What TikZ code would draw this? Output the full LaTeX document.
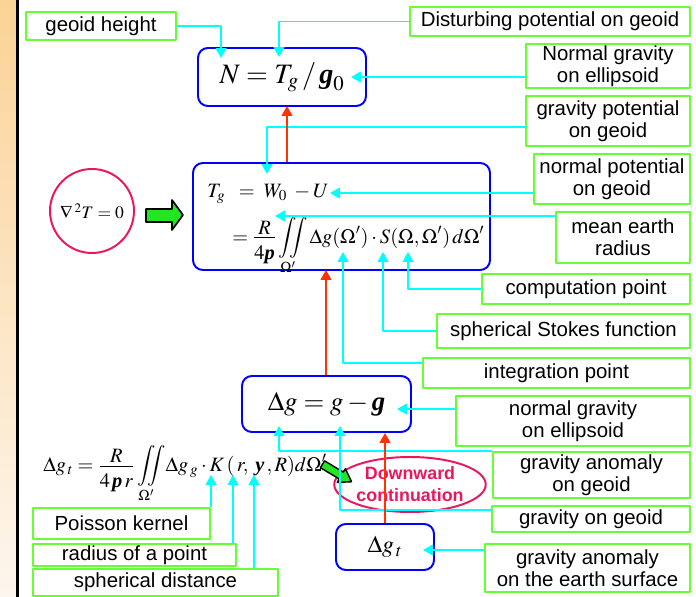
\documentclass[tikz,border=0pt]{standalone}
\usepackage{amsmath}
\usepackage{mathptmx}
\usepackage{fontspec}
\setmainfont{Liberation Serif}
\setsansfont{Liberation Sans}
\usetikzlibrary{arrows.meta,shapes.geometric}
\definecolor{lblgreen}{RGB}{102,255,51}
\definecolor{boxblue}{RGB}{0,0,255}
\definecolor{arrcyan}{RGB}{0,255,255}
\definecolor{arrred}{RGB}{255,51,0}
\definecolor{dcpink}{RGB}{234,22,94}
\definecolor{blkgreen}{RGB}{34,230,34}
\definecolor{stripTop}{RGB}{250,211,150}
\definecolor{stripBot}{RGB}{253,246,238}
\newcommand{\bi}[1]{\mbox{\bfseries\itshape #1}}
\newcommand{\tfr}[2]{{\textstyle\frac{\displaystyle #1\rule[-0.12em]{0pt}{0pt}}{\displaystyle\rule{0pt}{0.98em}#2}}}
\def\u{0.025cm}
\begin{document}
\begin{tikzpicture}[x=0.025cm, y=-0.025cm, line join=round,
	lbl/.style={draw=lblgreen, line width=1.4pt, inner sep=0pt, align=center, font=\sffamily\fontsize{14.5}{15.6}\selectfont},
	frm/.style={draw=boxblue, line width=1.4pt, rounded corners=7pt, inner sep=0pt},
	cy/.style={draw=arrcyan, line width=1.4pt, -{Triangle[length=7pt,width=7.5pt]}},
	rd/.style={draw=arrred, line width=1.4pt, -{Triangle[length=7pt,width=7.5pt]}}]
	\useasboundingbox (0,0) rectangle (696,597);
	% left strip
	\shade[top color=stripTop, bottom color=stripBot] (0,0) rectangle (17,597);
	\draw[line width=1.8pt] (17.5,0)--(17.5,597);
	% formula boxes
	\node[frm, minimum width=168*\u, minimum height=58*\u] (Nb) at (282,77) {\fontsize{20}{20}\selectfont$N = T_{g}\,/\,\bi{g}_{0}$};
	\node[frm, minimum width=297*\u, minimum height=107*\u] (Tb) at (341.5,216.5) {};
	\node[inner sep=0pt, anchor=base west] (Tf) at (207,197) {\fontsize{14.5}{14.5}\selectfont$T_{g}\;\;=\;W_{0}\;-U$};
	\node[inner sep=0pt, anchor=base west] (Tf2) at (232,243) {\fontsize{14.5}{14.5}\selectfont$\displaystyle=\tfr{R}{4\bi{p}}\iint\limits_{\Omega'}\Delta g(\Omega')\cdot S(\Omega,\Omega')\,d\Omega'$};
	\node[frm, minimum width=169*\u, minimum height=56*\u] (Dg) at (326.5,404) {\fontsize{19}{19}\selectfont$\Delta g = g - \bi{g}$};
	\node[frm, minimum width=98*\u, minimum height=46*\u] (Dgt) at (385,547) {\fontsize{17}{17}\selectfont$\Delta g_{\,t}$};
	\node[circle, draw=dcpink, line width=1.4pt, minimum size=84*\u, inner sep=0pt] (lap) at (92,211) {\fontsize{12.5}{12.5}\selectfont$\nabla\,{}^{2}T = 0$};
	\node[ellipse, draw=dcpink, line width=1.4pt, minimum width=136*\u, minimum height=55*\u, inner sep=0pt, align=center, text=dcpink, font=\sffamily\bfseries\fontsize{12.7}{15.6}\selectfont] (dc) at (410,484.5) {Downward\\continuation};
	\node[inner sep=0pt, anchor=base west] (pf) at (43,471) {\fontsize{14.5}{14.5}\selectfont$\displaystyle\Delta g_{\,t} = \tfr{R}{4\,\bi{p}\,r}\iint\limits_{\Omega'}\!\Delta g_{\,g}\cdot K\,(\,r,\;\bi{y}\,,R)d\Omega'$};
	% block arrows
	\filldraw[fill=blkgreen, draw=black, line width=1.2pt] (146,209)--(172,209)--(172,200)--(183,215)--(172,230)--(172,222)--(146,222)--cycle;
	\begin{scope}[shift={(337,473)}, rotate=-31]
		\filldraw[fill=blkgreen, draw=black, line width=1pt] (-17,-4)--(5,-4)--(5,-8)--(17,0)--(5,8)--(5,4)--(-17,4)--cycle;
	\end{scope}
	% labels
	\node[lbl, minimum width=150*\u, minimum height=28*\u] (gh) at (101,26) {geoid height};
	\node[lbl, minimum width=280*\u, minimum height=29*\u] (dp) at (550,21.5) {Disturbing potential on geoid};
	\node[lbl, minimum width=164*\u, minimum height=44*\u] (ng1) at (608,66) {Normal gravity\\on ellipsoid};
	\node[lbl, minimum width=164*\u, minimum height=50*\u] (gp) at (608,121) {gravity potential\\on geoid};
	\node[lbl, minimum width=156*\u, minimum height=50*\u] (np) at (612,179) {normal potential\\on geoid};
	\node[lbl, minimum width=134*\u, minimum height=51*\u] (mr) at (623,237.5) {mean earth\\radius};
	\node[lbl, minimum width=208*\u, minimum height=30*\u] (cp) at (586,289) {computation point};
	\node[lbl, minimum width=253*\u, minimum height=34*\u] (ss) at (563.5,331) {spherical Stokes function};
	\node[lbl, minimum width=267*\u, minimum height=30*\u] (ip) at (556.5,373) {integration point};
	\node[lbl, minimum width=234*\u, minimum height=50*\u] (ng2) at (573,421) {normal gravity\\on ellipsoid};
	\node[lbl, minimum width=197*\u, minimum height=46*\u] (ga) at (591.5,475) {gravity anomaly\\on geoid};
	\node[lbl, minimum width=198*\u, minimum height=26*\u] (go) at (591,519) {gravity on geoid};
	\node[lbl, minimum width=205*\u, minimum height=48*\u] (gs) at (587.5,568) {gravity anomaly\\on the earth surface};
	\node[lbl, minimum width=177*\u, minimum height=31*\u] (pk) at (121.5,523.5) {Poisson kernel};
	\node[lbl, minimum width=203*\u, minimum height=22*\u] (rp) at (134.5,555) {radius of a point};
	\node[lbl, minimum width=245*\u, minimum height=27*\u] (sd) at (155.5,582.5) {spherical distance};
	% arrow tips and bends
	\coordinate (tN) at (221,58);
	\coordinate (tT) at (279,57);
	\coordinate (tg0) at (351,77);
	\coordinate (bTg) at (267,127);
	\coordinate (tTg) at (267,174);
	\coordinate (tU) at (330,193);
	\coordinate (tR) at (275,216);
	\coordinate (tOm) at (408,252);
	\coordinate (tS) at (383,252);
	\coordinate (bDgO) at (343,363);
	\coordinate (tDgO) at (343,252);
	\coordinate (tgb) at (397,409);
	\coordinate (tDel) at (279,426);
	\coordinate (bg) at (340,510);
	\coordinate (tg) at (340,426);
	\coordinate (tgt) at (423,550);
	\coordinate (tK) at (211,475);
	\coordinate (tr) at (233,475);
	\coordinate (tpsi) at (254,475);
	\coordinate (rN) at (287,106);
	\coordinate (rT) at (326,270);
	% cyan connectors
	\draw[cy] (gh.east) -| (tN);
	\draw[cy] (dp.west) -| (tT);
	\draw[cy] (ng1.west |- tg0) -- (tg0);
	\draw[cy] (gp.west |- bTg) -- (bTg) -- (tTg);
	\draw[cy] (np.west |- tU) -- (tU);
	\draw[cy] (mr.west |- tR) -- (tR);
	\draw[cy] (cp.west) -| (tOm);
	\draw[cy] (ss.west) -| (tS);
	\draw[cy] (ip.west |- bDgO) -- (bDgO) -- (tDgO);
	\draw[cy] (ng2.west |- tgb) -- (tgb);
	\draw[cy] (ga.north west) -| (tDel);
	\draw[cy] (go.west |- bg) -- (bg) -- (tg);
	\draw[cy] (gs.west |- tgt) -- (tgt);
	\draw[cy] (tK |- pk.north) -- (tK);
	\draw[cy] (tr |- rp.north) -- (tr);
	\draw[cy] (tpsi |- sd.north) -- (tpsi);
	% red connectors
	\draw[rd] (rN |- Tb.north) -- (rN);
	\draw[rd] (rT |- Dg.north) -- (rT);
	\draw[rd] (Dgt.north) -- (Dgt.north |- Dg.south);
\end{tikzpicture}
\end{document}
